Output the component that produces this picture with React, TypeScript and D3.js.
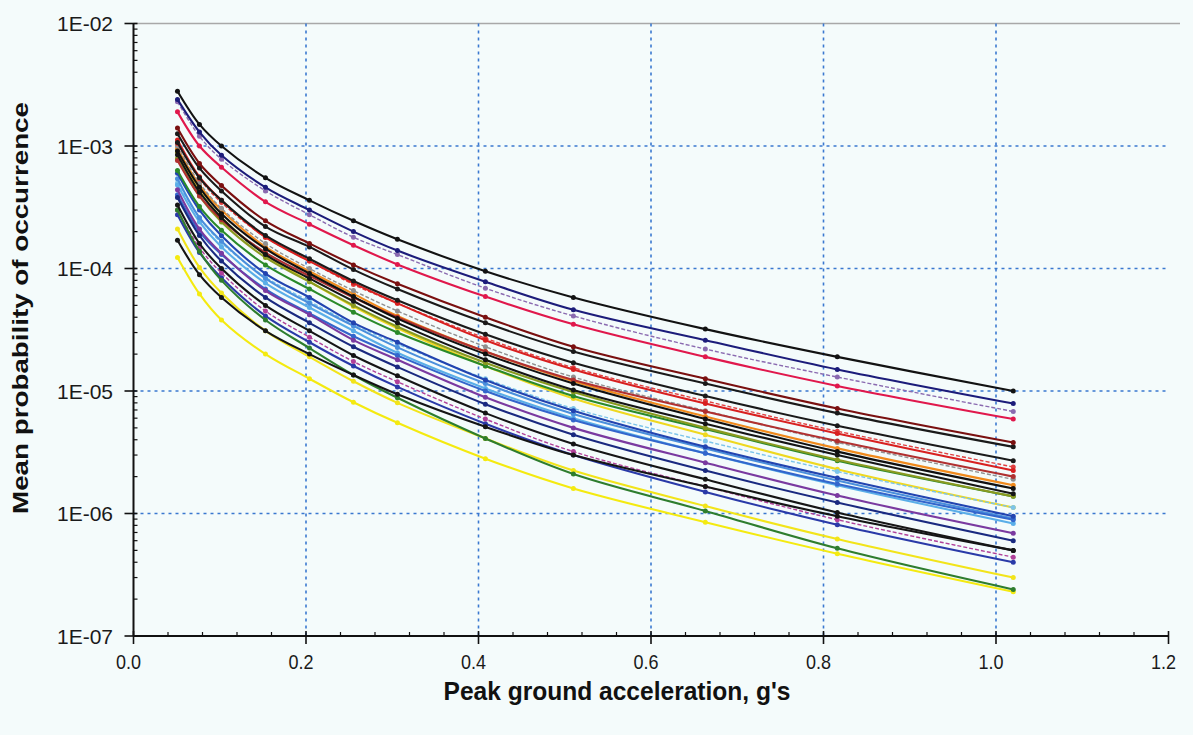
import React from 'react';
import * as d3 from 'd3';

const W = 1193;
const H = 735;

// Peak ground acceleration sample points (g)
const pga = [0.051, 0.0765, 0.102, 0.153, 0.204, 0.255, 0.306, 0.408, 0.51, 0.663, 0.816, 1.02];

const xTicks = [0.0, 0.2, 0.4, 0.6, 0.8, 1.0, 1.2];
const yTicks = [1e-7, 1e-6, 1e-5, 1e-4, 1e-3, 1e-2];
const yTickLabels = ['1E-07', '1E-06', '1E-05', '1E-04', '1E-03', '1E-02'];

// Mean probability of occurrence per site curve
const c01 = [2.8e-3, 1.5e-3, 1.0e-3, 5.5e-4, 3.6e-4, 2.45e-4, 1.73e-4, 9.5e-5, 5.8e-5, 3.2e-5, 1.9e-5, 1.0e-5];
const c02 = [2.4e-3, 1.3e-3, 8.4e-4, 4.6e-4, 3.0e-4, 2.0e-4, 1.4e-4, 7.8e-5, 4.6e-5, 2.6e-5, 1.5e-5, 7.9e-6];
const c03 = [1.9e-3, 1.0e-3, 6.7e-4, 3.5e-4, 2.3e-4, 1.55e-4, 1.08e-4, 5.9e-5, 3.5e-5, 1.9e-5, 1.1e-5, 5.9e-6];
const c04 = [2.3e-3, 1.2e-3, 7.8e-4, 4.3e-4, 2.75e-4, 1.8e-4, 1.3e-4, 6.9e-5, 4.1e-5, 2.2e-5, 1.3e-5, 6.8e-6];
const c05 = [1.4e-3, 7.2e-4, 4.75e-4, 2.45e-4, 1.6e-4, 1.07e-4, 7.5e-5, 4.0e-5, 2.3e-5, 1.26e-5, 7.2e-6, 3.8e-6];
const c06 = [1.26e-3, 6.6e-4, 4.3e-4, 2.2e-4, 1.5e-4, 9.8e-5, 6.8e-5, 3.6e-5, 2.1e-5, 1.15e-5, 6.6e-6, 3.5e-6];
const c07 = [1.12e-3, 5.6e-4, 3.6e-4, 1.8e-4, 1.15e-4, 7.6e-5, 5.2e-5, 2.6e-5, 1.5e-5, 7.9e-6, 4.5e-6, 2.24e-6];
const c08 = [1.07e-3, 5.5e-4, 3.6e-4, 1.86e-4, 1.2e-4, 7.9e-5, 5.5e-5, 2.9e-5, 1.7e-5, 9.1e-6, 5.2e-6, 2.7e-6];
const c09 = [1.0e-3, 5.0e-4, 3.1e-4, 1.6e-4, 1.0e-4, 6.6e-5, 4.5e-5, 2.3e-5, 1.3e-5, 6.9e-6, 3.8e-6, 1.9e-6];
const c10 = [9.5e-4, 4.8e-4, 3.0e-4, 1.5e-4, 9.5e-5, 6.2e-5, 4.1e-5, 2.1e-5, 1.2e-5, 6.2e-6, 3.4e-6, 1.7e-6];
const c11 = [9.1e-4, 4.6e-4, 2.8e-4, 1.45e-4, 9.1e-5, 5.9e-5, 3.9e-5, 2.0e-5, 1.15e-5, 5.9e-6, 3.2e-6, 1.6e-6];
const c12 = [8.5e-4, 4.2e-4, 2.6e-4, 1.3e-4, 8.3e-5, 5.4e-5, 3.6e-5, 1.8e-5, 1.02e-5, 5.4e-6, 3.0e-6, 1.45e-6];
const c13 = [8.9e-4, 4.3e-4, 2.6e-4, 1.3e-4, 7.8e-5, 4.9e-5, 3.25e-5, 1.6e-5, 8.7e-6, 4.4e-6, 2.3e-6, 1.12e-6];
const c14 = [7.9e-4, 3.9e-4, 2.4e-4, 1.23e-4, 7.8e-5, 5.0e-5, 3.35e-5, 1.7e-5, 9.8e-6, 5.0e-6, 2.75e-6, 1.38e-6];
const c15 = [6.3e-4, 3.2e-4, 2.05e-4, 1.07e-4, 6.8e-5, 4.4e-5, 3.0e-5, 1.6e-5, 9.1e-6, 4.9e-6, 2.7e-6, 1.38e-6];
const c16 = [6.0e-4, 3.0e-4, 1.85e-4, 9.1e-5, 5.8e-5, 3.6e-5, 2.5e-5, 1.23e-5, 6.9e-6, 3.5e-6, 1.95e-6, 9.5e-7];
const c17 = [5.4e-4, 2.6e-4, 1.67e-4, 8.3e-5, 5.2e-5, 3.4e-5, 2.27e-5, 1.15e-5, 6.5e-6, 3.4e-6, 1.86e-6, 9.1e-7];
const c18 = [4.8e-4, 2.4e-4, 1.5e-4, 7.6e-5, 4.8e-5, 3.1e-5, 2.05e-5, 1.05e-5, 6.0e-6, 3.1e-6, 1.7e-6, 8.3e-7];
const c19 = [4.4e-4, 2.1e-4, 1.33e-4, 6.6e-5, 4.2e-5, 2.6e-5, 1.8e-5, 8.9e-6, 5.0e-6, 2.6e-6, 1.4e-6, 6.9e-7];
const c20 = [3.8e-4, 1.86e-4, 1.15e-4, 5.8e-5, 3.6e-5, 2.3e-5, 1.57e-5, 7.8e-6, 4.4e-6, 2.24e-6, 1.23e-6, 6.0e-7];
const c21 = [3.3e-4, 1.6e-4, 1.0e-4, 5.0e-5, 3.1e-5, 1.95e-5, 1.33e-5, 6.6e-6, 3.7e-6, 1.9e-6, 1.02e-6, 5.0e-7];
const c22 = [3.0e-4, 1.48e-4, 9.2e-5, 4.5e-5, 2.75e-5, 1.74e-5, 1.19e-5, 5.9e-6, 3.2e-6, 1.66e-6, 8.9e-7, 4.4e-7];
const c23 = [2.75e-4, 1.35e-4, 8.4e-5, 4.1e-5, 2.5e-5, 1.6e-5, 1.08e-5, 5.4e-6, 3.0e-6, 1.5e-6, 8.1e-7, 4.0e-7];
const c24 = [1.7e-4, 8.9e-5, 5.8e-5, 3.1e-5, 2.0e-5, 1.35e-5, 9.4e-6, 5.1e-6, 3.0e-6, 1.66e-6, 9.5e-7, 5.0e-7];
const c25 = [2.1e-4, 1.02e-4, 6.3e-5, 3.1e-5, 1.9e-5, 1.2e-5, 8.0e-6, 4.1e-6, 2.24e-6, 1.15e-6, 6.2e-7, 3.0e-7];
const c26 = [3.0e-4, 1.38e-4, 8.0e-5, 3.8e-5, 2.24e-5, 1.35e-5, 8.8e-6, 4.1e-6, 2.1e-6, 1.05e-6, 5.2e-7, 2.4e-7];
const c27 = [1.23e-4, 6.2e-5, 3.8e-5, 2.0e-5, 1.26e-5, 8.1e-6, 5.5e-6, 2.8e-6, 1.6e-6, 8.5e-7, 4.7e-7, 2.3e-7];
const c28 = [4.0e-4, 2.0e-4, 1.3e-4, 6.8e-5, 4.3e-5, 2.8e-5, 1.95e-5, 1.0e-5, 5.8e-6, 3.1e-6, 1.74e-6, 8.9e-7];
const c29 = [1.05e-3, 5.4e-4, 3.45e-4, 1.8e-4, 1.15e-4, 7.4e-5, 5.2e-5, 2.7e-5, 1.55e-5, 8.3e-6, 4.7e-6, 2.4e-6];
const c30 = [7.6e-4, 3.9e-4, 2.5e-4, 1.35e-4, 8.7e-5, 5.8e-5, 4.0e-5, 2.1e-5, 1.23e-5, 6.8e-6, 3.9e-6, 2.0e-6];
const c31 = [5.0e-4, 2.6e-4, 1.62e-4, 8.5e-5, 5.4e-5, 3.5e-5, 2.42e-5, 1.26e-5, 7.2e-6, 3.9e-6, 2.2e-6, 1.12e-6];

const curveValues = [
  c27, c25, c13, c31, c18, c17, c28, c16, c23, c22, c19, c20, c26, c24, c21,
  c15, c14, c10, c09, c29, c07, c30, c12, c11, c08, c06, c05, c04, c03, c02, c01,
];
const curveColors = [
  '#f4ea10', '#f2e41a', '#efd820', '#7cc4ea', '#5aaee8', '#4a8fdc', '#3366cc', '#2244b0', '#2a3aa8', '#b0409a', '#7a3aa0', '#1a2a80', '#2e7d2e', '#151515', '#151515',
  '#2a8a2a', '#8a9a20', '#f08a1c', '#909090', '#e04040', '#d82020', '#b03030', '#151515', '#101010', '#1a1a1a', '#1a1a1a', '#7a1010', '#8a6ab0', '#e0184c', '#1c1c7a', '#121212',
];
const curveDashed = [
  false, false, false, true, false, false, false, false, false, true, false, false, false, false, false,
  false, false, false, true, true, false, false, false, false, false, false, false, true, false, false, false,
];

export default function App() {
  const x = d3.scaleLinear().domain([0, 1.2]).range([133.5, 1168.5]);
  const y = d3.scaleLog().domain([1e-7, 1e-2]).range([636, 23.5]);
  const x0 = x(0);
  const y0 = y(1e-7);
  const line = d3
    .line<[number, number]>()
    .x((d) => x(d[0]))
    .y((d) => y(d[1]))
    .curve(d3.curveCatmullRom.alpha(0.5));

  const minorY: number[] = [];
  for (let e = -7; e < -2; e++) {
    for (let m = 2; m <= 9; m++) minorY.push(m * Math.pow(10, e));
  }
  const minorX = d3.range(0, 1.2001, 0.04).filter((v) => Math.abs(v / 0.2 - Math.round(v / 0.2)) > 1e-6);

  const gridColor = '#3a78d0';
  const font = "'Liberation Sans', Arial, sans-serif";

  return (
    <svg width={W} height={H} style={{ position: 'absolute', left: 0, top: 0, display: 'block' }}>
      <rect x={0} y={0} width={W} height={H} fill="#f4fbfb" />
      {/* top border */}
      <line x1={x0} x2={1180} y1={y(1e-2)} y2={y(1e-2)} stroke="#a8a8a8" strokeWidth={1.5} />
      {/* grid */}
      {[0.2, 0.4, 0.6, 0.8, 1.0].map((v) => (
        <line key={'gx' + v} x1={x(v)} x2={x(v)} y1={y(1e-2)} y2={y0} stroke={gridColor} strokeWidth={1.6} strokeDasharray="3,4" />
      ))}
      {[1e-6, 1e-5, 1e-4, 1e-3].map((v) => (
        <line key={'gy' + v} x1={x0} x2={x(1.2)} y1={y(v)} y2={y(v)} stroke={gridColor} strokeWidth={1.6} strokeDasharray="3,4" />
      ))}
      {/* curves */}
      {curveValues.map((vals, i) => {
        const pts = pga.map((p, j) => [p, vals[j]] as [number, number]);
        return (
          <g key={'c' + i}>
            <path
              d={line(pts) || ''}
              fill="none"
              stroke={curveColors[i]}
              strokeWidth={curveDashed[i] ? 1.4 : 2.1}
              strokeDasharray={curveDashed[i] ? '4,2' : undefined}
              strokeLinejoin="round"
            />
            {pts.map((p, j) => (
              <circle key={j} cx={x(p[0])} cy={y(p[1])} r={2.5} fill={curveColors[i]} />
            ))}
          </g>
        );
      })}
      {/* axes */}
      <line x1={x0} x2={x0} y1={y(1e-2)} y2={y0} stroke="#111" strokeWidth={2} />
      <line x1={x0} x2={x(1.2)} y1={y0} y2={y0} stroke="#111" strokeWidth={2} />
      {minorY.map((v, i) => (
        <line key={'my' + i} x1={x0} x2={x0 + 4} y1={y(v)} y2={y(v)} stroke="#111" strokeWidth={1.2} />
      ))}
      {yTicks.map((v) => (
        <line key={'My' + v} x1={x0 - 9} x2={x0 + 4} y1={y(v)} y2={y(v)} stroke="#111" strokeWidth={1.6} />
      ))}
      {minorX.map((v, i) => (
        <line key={'mx' + i} x1={x(v)} x2={x(v)} y1={y0 - 4} y2={y0} stroke="#111" strokeWidth={1.2} />
      ))}
      {xTicks.map((v) => (
        <line key={'Mx' + v} x1={x(v)} x2={x(v)} y1={y0 - 5} y2={y0 + 8} stroke="#111" strokeWidth={1.6} />
      ))}
      {/* tick labels */}
      {yTicks.map((v, i) => (
        <text key={'ly' + v} x={113} y={y(v)} dy="0.36em" textAnchor="end" fontFamily={font} fontSize={21} fill="#1a1a1a">
          {yTickLabels[i]}
        </text>
      ))}
      {xTicks.map((v) => (
        <text
          key={'lx' + v}
          x={x(v) - 5}
          y={y0 + 18}
          dy="0.71em"
          textAnchor="middle"
          fontFamily={font}
          fontSize={21}
          fill="#1a1a1a"
          textLength={25}
          lengthAdjust="spacingAndGlyphs"
        >
          {v.toFixed(1)}
        </text>
      ))}
      {/* axis titles */}
      <text
        x={617}
        y={700}
        textAnchor="middle"
        fontFamily={font}
        fontWeight="bold"
        fontSize={25}
        fill="#111"
        textLength={347}
        lengthAdjust="spacingAndGlyphs"
      >
        Peak ground acceleration, g's
      </text>
      <text
        transform={`translate(28,308) rotate(-90)`}
        textAnchor="middle"
        fontFamily={font}
        fontWeight="bold"
        fontSize={22}
        fill="#111"
        textLength={412}
        lengthAdjust="spacingAndGlyphs"
      >
        Mean probability of occurrence
      </text>
    </svg>
  );
}
